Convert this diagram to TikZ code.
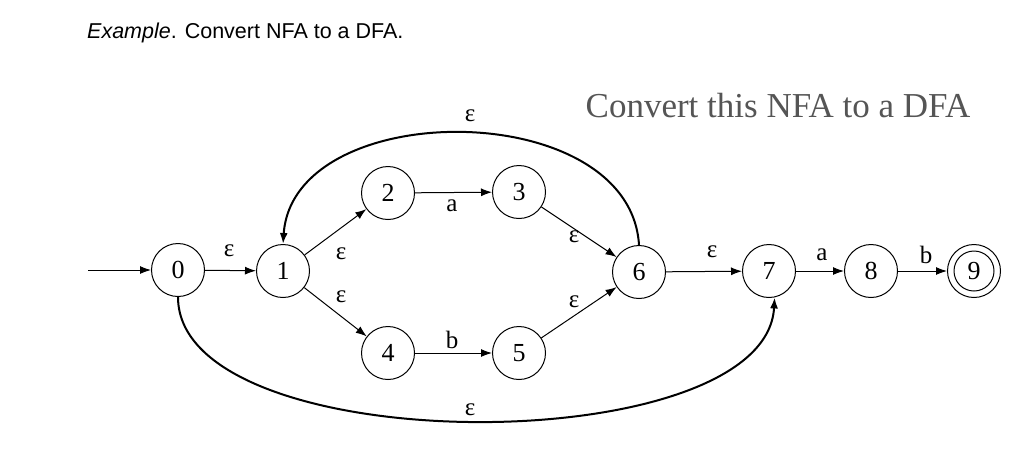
\documentclass[tikz,border=0pt]{standalone}
\usepackage{fontspec}
\setmainfont{Liberation Serif}
\newfontfamily\hsans{Liberation Sans}
\usetikzlibrary{arrows.meta}
\definecolor{titlegray}{HTML}{555555}
\begin{document}
\begin{tikzpicture}[x=1pt,y=-1pt,
  st/.style={draw, circle, minimum size=53pt, inner sep=0pt, line width=1pt,
    font=\fontsize{26}{26}\selectfont},
  tr/.style={-{Latex[length=11pt,width=8pt]}, line width=1pt},
  bigarc/.style={tr, line width=2pt},
  lab/.style={inner sep=0pt, font=\fontsize{25}{25}\selectfont}]
\useasboundingbox (0,0) rectangle (1024,469);
% titles
\node[anchor=west, inner sep=0pt, font=\hsans\fontsize{21.5}{21.5}\selectfont] (title) at (87,33) {\textit{Example}. Convert NFA to a DFA.};
\node[inner sep=0pt, text=titlegray, font=\fontsize{35}{35}\selectfont] (sub) at (778,106) {Convert this NFA to a DFA};
% states
\node[st] (n0) at (178,270) {0};
\node[st] (n1) at (283,271) {1};
\node[st] (n2) at (388,193) {2};
\node[st] (n3) at (519,192) {3};
\node[st] (n4) at (388,353) {4};
\node[st] (n5) at (519,353) {5};
\node[st] (n6) at (639,272) {6};
\node[st] (n7) at (769,271) {7};
\node[st] (n8) at (871,271) {8};
\node[st] (n9) at (974,271) {9};
\node[circle, draw, line width=1pt, minimum size=40pt, inner sep=0pt] (n9in) at (n9) {};
\coordinate (start) at (88,270);
% transitions
\draw[tr] (start) -- (n0);
\draw[tr] (n0) -- (n1);
\draw[tr] (n1) -- (n2);
\draw[tr] (n1) -- (n4);
\draw[tr] (n2) -- (n3);
\draw[tr] (n4) -- (n5);
\draw[tr] (n3) -- (n6);
\draw[tr] (n5) -- (n6);
\draw[tr] (n6) -- (n7);
\draw[tr] (n7) -- (n8);
\draw[tr] (n8) -- (n9);
\draw[bigarc] (n6.north) .. controls (630,96) and (293,96) .. (n1.north);
\draw[bigarc] (n0.south) .. controls (178,462) and (766,462) .. (n7.-78);
% labels
\node[lab] (l01) at (229,251) {ε};
\node[lab] (l12) at (341,254) {ε};
\node[lab] (l14) at (341,297) {ε};
\node[lab] (l23) at (452,206) {a};
\node[lab] (l45) at (452,340) {b};
\node[lab] (l36) at (574,237) {ε};
\node[lab] (l56) at (574,302) {ε};
\node[lab] (l67) at (712,252) {ε};
\node[lab] (l78) at (822,255) {a};
\node[lab] (l89) at (926,255) {b};
\node[lab] (l61) at (470,116) {ε};
\node[lab] (l07) at (470,410) {ε};
\end{tikzpicture}
\end{document}
